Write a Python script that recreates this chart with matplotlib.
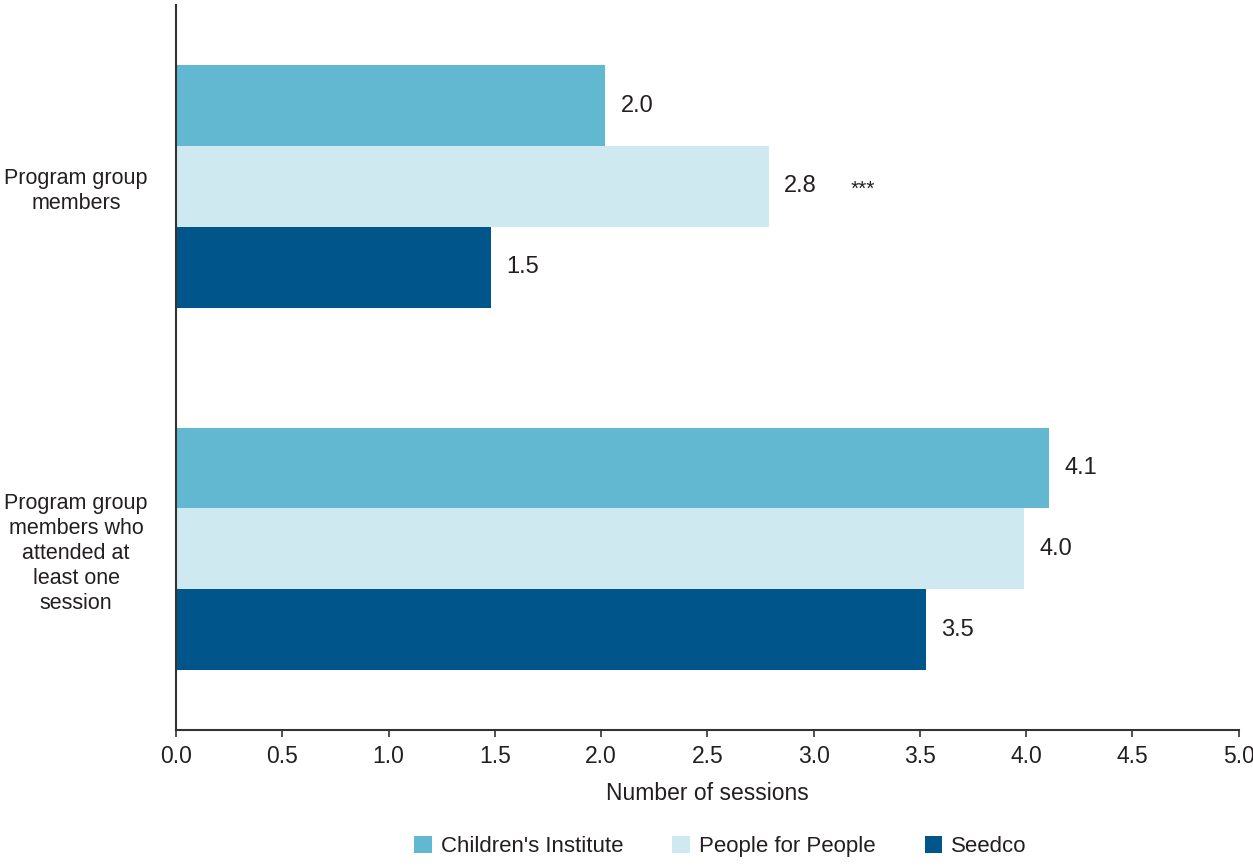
import matplotlib
matplotlib.use('Agg')
import matplotlib.pyplot as plt
import numpy as np

plt.rcParams['font.family'] = ['Liberation Sans', 'DejaVu Sans']

# data
categories = ["Program group\nmembers",
              "Program group\nmembers who\nattended at\nleast one\nsession"]
series_names = ["Children's Institute", "People for People", "Seedco"]
childrens_institute = [2.02, 4.11]
people_for_people = [2.79, 3.99]
seedco = [1.48, 3.53]
value_labels = [["2.0", "4.1"], ["2.8", "4.0"], ["1.5", "3.5"]]
significance = ["", "***", ""]  # per series, first group only
xticks = [0.0, 0.5, 1.0, 1.5, 2.0, 2.5, 3.0, 3.5, 4.0, 4.5, 5.0]

colors = ["#62B8D1", "#CEEAF0", "#00558B"]
text_color = "#231F20"

fig = plt.figure(figsize=(12.53, 8.67), dpi=100)
ax = fig.add_axes([0.1405, 0.158, 0.848, 0.836])

y = np.arange(len(categories))
h = 0.223
all_series = [childrens_institute, people_for_people, seedco]
for i, (vals, name, c) in enumerate(zip(all_series, series_names, colors)):
    pos = y + (i - 1) * h
    ax.barh(pos, vals, height=h, color=c, label=name, linewidth=0)
    for j, (p, v) in enumerate(zip(pos, vals)):
        ax.annotate(value_labels[i][j], (v, p), xytext=(11, 0), textcoords='offset points',
                    va='center', ha='left', fontsize=17, color=text_color)
    if significance[i]:
        ax.annotate(significance[i], (vals[0], pos[0]), xytext=(59, -2), textcoords='offset points',
                    va='center', ha='left', fontsize=15, color=text_color)

ax.set_xlim(0, 5)
ax.set_ylim(1.5, -0.5)
ax.set_xticks(xticks)
ax.set_xticklabels([f"{t:.1f}" for t in xticks])
ax.set_yticks(y)
ax.set_yticklabels(categories, fontsize=15.5, color=text_color, ha='center',
                   linespacing=1.25)
ax.tick_params(axis='y', length=0, pad=72)
ax.tick_params(axis='x', length=5, width=1.2, color='#333333', labelsize=16.5,
               labelcolor=text_color, pad=6)
ax.set_xlabel("Number of sessions", fontsize=16.5, color=text_color, labelpad=10)

for s in ['top', 'right']:
    ax.spines[s].set_visible(False)
for s in ['left', 'bottom']:
    ax.spines[s].set_color('#333333')
    ax.spines[s].set_linewidth(1.5)

fig.legend(loc='lower center', ncol=3, frameon=False, fontsize=16,
           bbox_to_anchor=(0.575, -0.012), handlelength=0.8, handleheight=0.8,
           handletextpad=0.4, columnspacing=2.2, labelcolor=text_color)

fig.savefig("out.png", dpi=100)
